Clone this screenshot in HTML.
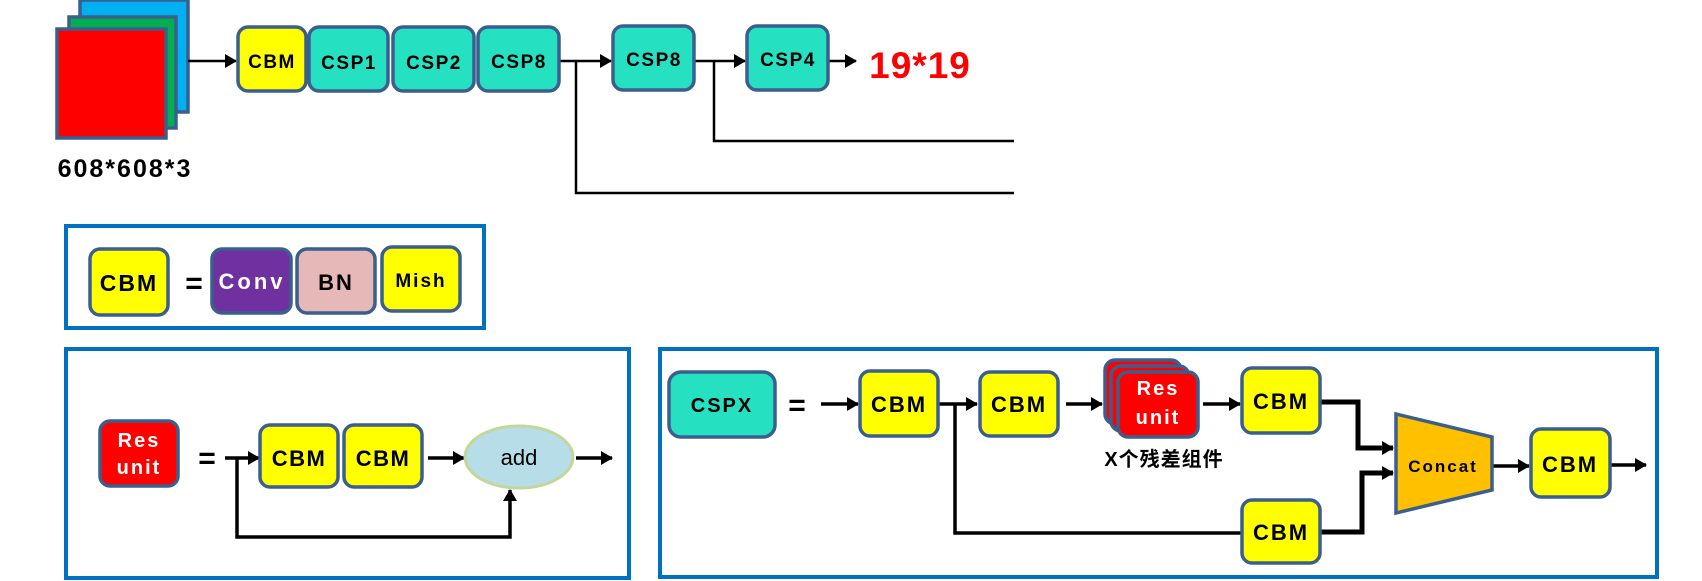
<!DOCTYPE html>
<html><head><meta charset="utf-8"><style>
html,body{margin:0;padding:0;background:#fff;}
svg{display:block;}
text{font-family:"Liberation Sans","Noto Sans CJK SC",sans-serif;font-weight:bold;}
</style></head><body>
<svg width="1702" height="581" viewBox="0 0 1702 581" xmlns="http://www.w3.org/2000/svg">
<defs>
<marker id="a" markerWidth="8" markerHeight="8" refX="7" refY="4" orient="auto" markerUnits="userSpaceOnUse"><path d="M0,0 L8,4 L0,8Z" fill="#000"/></marker>
<marker id="b" markerWidth="12" markerHeight="14" refX="11" refY="7" orient="auto" markerUnits="userSpaceOnUse"><path d="M0,0 L12,7 L0,14Z" fill="#000"/></marker>
</defs>
<g stroke="#3A5F8F" stroke-width="3.5">
<rect x="80" y="0" width="108" height="112" fill="#00B0F0"/>
<rect x="69" y="17" width="107" height="111" fill="#00B050"/>
<rect x="57" y="29" width="109" height="109" fill="#FF0000"/>
</g>
<text x="125" y="177" font-size="25" text-anchor="middle" letter-spacing="2">608*608*3</text>
<!-- top chain -->
<g stroke="#000" stroke-width="2.5" fill="none">
<line x1="188" y1="61" x2="236" y2="61" marker-end="url(#b)"/>
<line x1="560" y1="61" x2="611" y2="61" marker-end="url(#b)"/>
<polyline points="576,61 576,193 1014,193"/>
<line x1="695" y1="61" x2="745" y2="61" marker-end="url(#b)"/>
<polyline points="714,61 714,141 1014,141"/>
<line x1="829" y1="61" x2="856" y2="61" marker-end="url(#b)"/>
</g>
<g stroke="#3A5F8F" stroke-width="3.5">
<rect x="238" y="27" width="68" height="64" rx="10" fill="#FFFF00"/>
<rect x="309" y="27" width="79" height="64" rx="10" fill="#26E0C2"/>
<rect x="393" y="27" width="81" height="64" rx="10" fill="#26E0C2"/>
<rect x="478" y="27" width="81" height="64" rx="10" fill="#26E0C2"/>
<rect x="613" y="26" width="81" height="64" rx="10" fill="#26E0C2"/>
<rect x="747" y="26" width="81" height="64" rx="10" fill="#26E0C2"/>
</g>
<g font-size="19" text-anchor="middle" letter-spacing="1.5">
<text x="272" y="68">CBM</text><text x="349" y="69">CSP1</text><text x="434" y="69">CSP2</text><text x="519" y="68">CSP8</text><text x="654" y="66">CSP8</text><text x="788" y="66">CSP4</text>
</g>
<text x="920" y="78" font-size="37" fill="#FF0000" text-anchor="middle" letter-spacing="1">19*19</text>
<!-- CBM legend -->
<rect x="66" y="226" width="418" height="102" fill="none" stroke="#0070C0" stroke-width="4"/>
<g stroke="#3A5F8F" stroke-width="3.5">
<rect x="90" y="249" width="78" height="66" rx="10" fill="#FFFF00"/>
<rect x="212" y="249" width="79" height="64" rx="10" fill="#7030A0"/>
<rect x="297" y="249" width="78" height="64" rx="10" fill="#E6B8B7"/>
<rect x="382" y="247" width="78" height="64" rx="10" fill="#FFFF00"/>
</g>
<text x="129" y="291" font-size="23" text-anchor="middle" letter-spacing="2">CBM</text>
<text x="194" y="293" font-size="30" text-anchor="middle">=</text>
<text x="252" y="289" font-size="22" fill="#fff" text-anchor="middle" letter-spacing="3">Conv</text>
<text x="336" y="290" font-size="22" text-anchor="middle" letter-spacing="2">BN</text>
<text x="421" y="287" font-size="19" text-anchor="middle" letter-spacing="2">Mish</text>
<!-- Res unit box -->
<rect x="66" y="349" width="563" height="229" fill="none" stroke="#0070C0" stroke-width="4"/>
<rect x="100" y="421" width="78" height="65" rx="10" fill="#FF0000" stroke="#3A5F8F" stroke-width="3.5"/>
<text x="139" y="447" font-size="20" fill="#fff" text-anchor="middle" letter-spacing="2">Res</text>
<text x="139" y="474" font-size="20" fill="#fff" text-anchor="middle" letter-spacing="2">unit</text>
<text x="207" y="468" font-size="30" text-anchor="middle">=</text>
<g stroke="#000" stroke-width="3.5" fill="none">
<line x1="225" y1="458" x2="259" y2="458" marker-end="url(#b)"/>
<polyline points="237,458 237,537 510,537 510,490" marker-end="url(#b)"/>
<line x1="428" y1="458" x2="464" y2="458" marker-end="url(#b)"/>
<line x1="576" y1="458" x2="612" y2="458" marker-end="url(#b)"/>
</g>
<g stroke="#3A5F8F" stroke-width="3.5">
<rect x="260" y="425" width="78" height="62" rx="10" fill="#FFFF00"/>
<rect x="344" y="425" width="78" height="62" rx="10" fill="#FFFF00"/>
</g>
<text x="299" y="466" font-size="22" text-anchor="middle" letter-spacing="1.5">CBM</text>
<text x="383" y="466" font-size="22" text-anchor="middle" letter-spacing="1.5">CBM</text>
<ellipse cx="519" cy="457" rx="54" ry="31" fill="#B7DDE8" stroke="#C3D69B" stroke-width="3"/>
<text x="519" y="465" font-size="22" font-weight="normal" style="font-weight:normal" text-anchor="middle">add</text>
<!-- CSPX box -->
<rect x="660" y="349" width="997" height="228" fill="none" stroke="#0070C0" stroke-width="4"/>
<rect x="669" y="372" width="106" height="65" rx="12" fill="#26E0C2" stroke="#3A5F8F" stroke-width="3.5"/>
<text x="722" y="412" font-size="20" text-anchor="middle" letter-spacing="2">CSPX</text>
<text x="797" y="415" font-size="30" text-anchor="middle">=</text>
<g stroke="#000" stroke-width="3.5" fill="none">
<line x1="821" y1="404" x2="858" y2="404" marker-end="url(#b)"/>
<line x1="939" y1="404" x2="977" y2="404" marker-end="url(#b)"/>
<polyline points="955,404 955,533 1242,533"/>
<line x1="1066" y1="404" x2="1102" y2="404" marker-end="url(#b)"/>
<line x1="1203" y1="404" x2="1240" y2="404" marker-end="url(#b)"/>
<polyline points="1320,402 1358,402 1358,448 1393,448" stroke-width="5" marker-end="url(#b)"/>
<polyline points="1320,532 1362,532 1362,473 1393,473" stroke-width="5" marker-end="url(#b)"/>
<line x1="1492" y1="466" x2="1529" y2="466" marker-end="url(#b)"/>
<line x1="1610" y1="465" x2="1646" y2="465" marker-end="url(#b)"/>
</g>
<g stroke="#3A5F8F" stroke-width="3.5">
<rect x="860" y="371" width="78" height="65" rx="10" fill="#FFFF00"/>
<rect x="980" y="372" width="78" height="64" rx="10" fill="#FFFF00"/>
<rect x="1105" y="360" width="76" height="64" rx="10" fill="#FF0000"/>
<rect x="1111" y="366" width="78" height="65" rx="10" fill="#FF0000"/>
<rect x="1118" y="372" width="80" height="65" rx="10" fill="#FF0000"/>
<rect x="1242" y="368" width="78" height="65" rx="10" fill="#FFFF00"/>
<rect x="1242" y="500" width="78" height="63" rx="10" fill="#FFFF00"/>
<rect x="1531" y="429" width="79" height="68" rx="10" fill="#FFFF00"/>
<polygon points="1396,414 1492,437 1492,490 1396,513" fill="#FFC000"/>
</g>
<g font-size="22" text-anchor="middle" letter-spacing="2">
<text x="899" y="412">CBM</text><text x="1019" y="412">CBM</text><text x="1281" y="409">CBM</text><text x="1281" y="540">CBM</text><text x="1570" y="472">CBM</text>
</g>
<text x="1158" y="395" font-size="20" fill="#fff" text-anchor="middle" letter-spacing="2">Res</text>
<text x="1158" y="424" font-size="20" fill="#fff" text-anchor="middle" letter-spacing="2">unit</text>
<text x="1164" y="466" font-size="20" text-anchor="middle" letter-spacing="1">X个残差组件</text>
<text x="1443" y="472" font-size="17" text-anchor="middle" letter-spacing="2">Concat</text>
</svg>
</body></html>
